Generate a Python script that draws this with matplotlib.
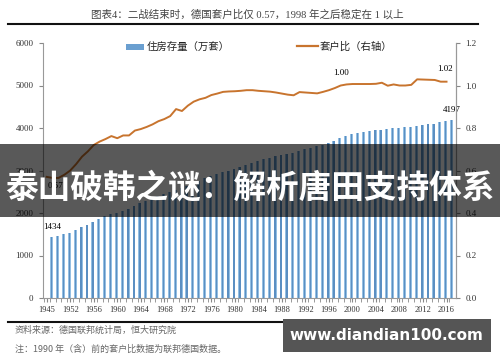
import numpy as np
import matplotlib
matplotlib.use("Agg")
import matplotlib.pyplot as plt
from matplotlib.patches import Rectangle
from matplotlib.lines import Line2D

years = [1945] + list(range(1949, 2017))
stock = [1434, 1460, 1500, 1540, 1595, 1660, 1725, 1795, 1860, 1930,
         1975, 2000, 2040, 2100, 2160, 2225, 2285, 2340, 2395, 2445,
         2495, 2545, 2595, 2645, 2700, 2760, 2815, 2865, 2910, 2955,
         3000, 3045, 3090, 3135, 3180, 3220, 3260, 3295, 3330, 3360,
         3390, 3420, 3460, 3495, 3530, 3570, 3610, 3650, 3700, 3760,
         3810, 3855, 3885, 3910, 3930, 3945, 3960, 3975, 3990, 4005,
         4020, 4035, 4050, 4065, 4085, 4105, 4130, 4160, 4197]
ratio = [0.57, 0.565, 0.565, 0.58, 0.60, 0.63, 0.665, 0.69, 0.72, 0.736,
         0.748, 0.762, 0.752, 0.765, 0.765, 0.788, 0.795, 0.805, 0.817, 0.832,
         0.842, 0.856, 0.889, 0.88, 0.905, 0.924, 0.935, 0.942, 0.955, 0.962,
         0.97, 0.972, 0.973, 0.975, 0.978, 0.978, 0.975, 0.973, 0.971, 0.967,
         0.962, 0.957, 0.954, 0.969, 0.967, 0.965, 0.963, 0.970, 0.978, 0.988,
         1.00, 1.005, 1.007, 1.007, 1.007, 1.007, 1.008, 1.013, 0.999, 1.005,
         1.0, 1.0, 1.003, 1.029, 1.028, 1.027, 1.026, 1.018, 1.018]
tick_labels = [str(y) for y in years[::4]]

title = "图表4：二战结束时，德国套户比仅 0.57，1998 年之后稳定在 1 以上"
legend_bar = "住房存量（万套）"
legend_line = "套户比（右轴）"
source = "资料来源：德国联邦统计局，恒大研究院"
note = "注：1990 年（含）前的套户比数据为联邦德国数据。"
banner = "泰山破韩之谜：解析唐田支持体系"
watermark = "www.diandian100.com"

SERIF = ["Liberation Serif", "Noto Sans CJK SC"]
CJK = ["Noto Sans CJK SC", "DejaVu Sans"]
plt.rcParams['font.family'] = SERIF

W, H = 500, 362
fig = plt.figure(figsize=(5, 3.62), dpi=100)
fig.patch.set_facecolor("white")

def fx(px):
    return px / W

def fy(py):
    return 1 - py / H

ax = fig.add_axes([fx(43.3), fy(298), fx(455.7) - fx(43.3), fy(43) - fy(298)])
x = np.arange(len(years))
bar_off = 0.85
ax.bar(x + bar_off, stock, width=0.5, color="#93bfe3", zorder=2)
ax.bar(x + bar_off, stock, width=0.22, color="#5b8fc2", zorder=2)
ax.set_ylim(0, 6000)
ax.set_xlim(-0.58, 69.56)
ax.set_yticks(range(0, 6001, 1000))
ax.set_xticks(x[::4])
ax.set_xticklabels(tick_labels)
ax.set_xticks(np.arange(-0.5, 69.5, 1), minor=True)
ax.tick_params(axis="y", labelsize=6.5, length=3, color="#888888", pad=4, labelcolor="#333333")
ax.tick_params(axis="x", which="major", labelsize=6, length=3, color="#888888", pad=3,
               labelcolor="#333333")
ax.tick_params(axis="x", which="minor", length=3, color="#888888")
ax.spines["top"].set_visible(False)
for s in ["left", "bottom", "right"]:
    ax.spines[s].set_color("#999999")
    ax.spines[s].set_linewidth(0.8)

ax2 = ax.twinx()
ax2.plot(x, ratio, color="#c8742e", lw=1.4, zorder=3)
ax2.set_ylim(0, 1.2)
ax2.set_yticks(np.arange(0, 1.21, 0.2))
ax2.set_yticklabels([f"{v:.1f}" for v in np.arange(0, 1.21, 0.2)])
ax2.tick_params(axis="y", labelsize=6.5, length=3, color="#888888", pad=4, labelcolor="#333333")
ax2.spines["top"].set_visible(False)
ax2.spines["right"].set_color("#999999")
ax2.spines["right"].set_linewidth(0.8)
ax2.spines["left"].set_visible(False)
ax2.spines["bottom"].set_visible(False)

# annotations
ax.annotate(f"{stock[0]}", (x[0] + bar_off, stock[0]), xytext=(0, 4),
            textcoords="offset points", ha="center", va="bottom", fontsize=6.5)
ax.annotate(f"{stock[-1]}", (x[-1] + bar_off, stock[-1]), xytext=(0, 4),
            textcoords="offset points", ha="center", va="bottom", fontsize=6.5)
ax2.annotate(f"{ratio[50]:.2f}", (x[50], ratio[50]), xytext=(0, 6),
             textcoords="offset points", ha="center", va="bottom", fontsize=6.5)
ax2.annotate(f"{ratio[-1]:.2f}", (x[-1], ratio[-1]), xytext=(-1, 6),
             textcoords="offset points", ha="center", va="bottom", fontsize=6.5)
ax2.annotate(f"{ratio[0]:.2f}", (x[0], ratio[0]), xytext=(1, -4),
             textcoords="offset points", ha="left", va="top", fontsize=6.5)

# legend (manual)
fig.add_artist(Rectangle((fx(126), fy(49.5)), fx(144) - fx(126), fy(43.5) - fy(49.5),
                         transform=fig.transFigure, facecolor="#6a9fd0", edgecolor="none"))
fig.text(fx(147), fy(46.5), legend_bar, fontsize=7.5, family=CJK, va="center", ha="left",
         color="#222222")
fig.add_artist(Line2D([fx(297), fx(318)], [fy(46), fy(46)], transform=fig.transFigure,
                      color="#c8742e", lw=1.6))
fig.text(fx(320), fy(46.5), legend_line, fontsize=7.5, family=CJK, va="center", ha="left",
         color="#222222")

# title and rules
fig.text(fx(247), fy(14), title, fontsize=7.6, family=SERIF, ha="center", va="center",
         color="#444444")
fig.add_artist(Line2D([fx(8), fx(478)], [fy(24), fy(24)], transform=fig.transFigure,
                      color="#111111", lw=1.5))
fig.add_artist(Line2D([fx(8), fx(487)], [fy(321.5), fy(321.5)], transform=fig.transFigure,
                      color="#111111", lw=1.5))

# source notes
fig.text(fx(15), fy(330), source, fontsize=6.5, family=CJK, ha="left", va="center",
         color="#666666", style="italic")
fig.text(fx(15), fy(349), note, fontsize=6.5, family=CJK, ha="left", va="center",
         color="#666666", style="italic")

# banner overlay
fig.add_artist(Rectangle((0, fy(217)), 1, fy(144) - fy(217), transform=fig.transFigure,
                         facecolor="black", alpha=0.65, edgecolor="none", zorder=5))
fig.text(0.5, fy(188), banner, fontsize=23.5, family=CJK, weight="bold", color="white",
         ha="center", va="center", zorder=6)

# watermark
fig.add_artist(Rectangle((fx(283), fy(352)), fx(491) - fx(283), fy(319) - fy(352),
                         transform=fig.transFigure, facecolor="#555555", edgecolor="none",
                         zorder=5))
fig.text(fx(386), fy(336), watermark, fontsize=11, family=["DejaVu Sans"], weight="bold",
         color="white", ha="center", va="center", zorder=6)

fig.savefig("out.png", dpi=100)
